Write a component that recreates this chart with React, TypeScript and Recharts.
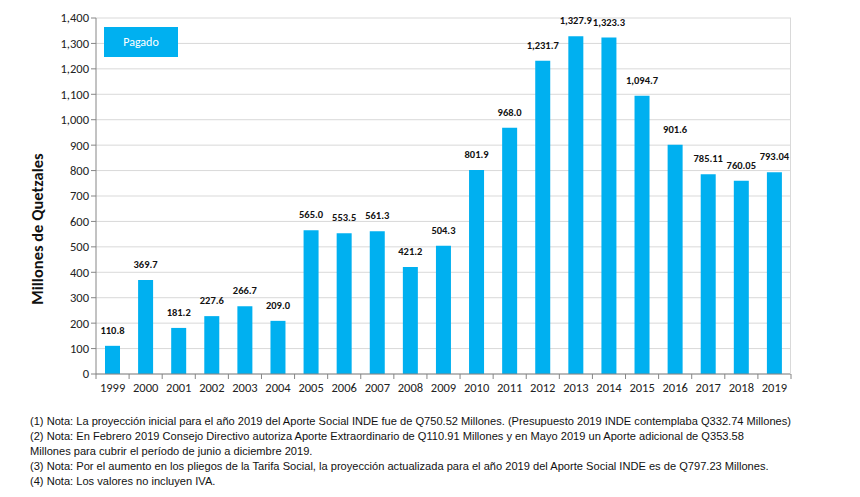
import { BarChart, Bar, XAxis, YAxis, CartesianGrid, LabelList } from "recharts";

const years = [
  "1999", "2000", "2001", "2002", "2003", "2004", "2005", "2006", "2007", "2008", "2009",
  "2010", "2011", "2012", "2013", "2014", "2015", "2016", "2017", "2018", "2019",
];
const pagado = [
  110.8, 369.7, 181.2, 227.6, 266.7, 209.0, 565.0, 553.5, 561.3, 421.2, 504.3,
  801.9, 968.0, 1231.7, 1327.9, 1323.3, 1094.7, 901.6, 785.11, 760.05, 793.04,
];
const labels = [
  "110.8", "369.7", "181.2", "227.6", "266.7", "209.0", "565.0", "553.5", "561.3", "421.2", "504.3",
  "801.9", "968.0", "1,231.7", "1,327.9", "1,323.3", "1,094.7", "901.6", "785.11", "760.05", "793.04",
];
const yTicks = [0, 100, 200, 300, 400, 500, 600, 700, 800, 900, 1000, 1100, 1200, 1300, 1400];
const notes = [
  "(1) Nota: La proyección inicial para el año 2019 del Aporte Social INDE fue de Q750.52 Millones. (Presupuesto 2019 INDE contemplaba Q332.74 Millones)",
  "(2) Nota: En Febrero 2019 Consejo Directivo autoriza Aporte Extraordinario de Q110.91 Millones y en Mayo 2019 un Aporte adicional de Q353.58",
  "Millones para cubrir el período de junio a diciembre 2019.",
  "(3) Nota: Por el aumento en los pliegos de la Tarifa Social, la proyección actualizada para el año 2019 del Aporte Social INDE es de Q797.23 Millones.",
  "(4) Nota: Los valores no incluyen IVA.",
];

const data = years.map((y, i) => ({ year: y, value: pagado[i], label: labels[i] }));

const W = 860;
const H = 400;
const margin = { top: 18, right: 69, left: 0, bottom: 0 };
const yAxisWidth = 96;
const plotW = W - margin.left - margin.right - yAxisWidth;
const step = plotW / years.length;
const FONT = "Carlito, Calibri, Lato, sans-serif";

const YearTick = (props: any) => {
  const { x, y, payload, index } = props;
  return (
    <g>
      <line x1={x - step / 2} x2={x - step / 2} y1={y - 8} y2={y - 3} stroke="#868686" />
      {index === years.length - 1 && (
        <line x1={x + step / 2} x2={x + step / 2} y1={y - 8} y2={y - 3} stroke="#868686" />
      )}
      <text x={x} y={y + 10} textAnchor="middle" fontSize={12.5} fill="#222" fontFamily={FONT}>
        {payload.value}
      </text>
    </g>
  );
};

const AxisTitle = () => (
  <text
    transform="translate(43, 229) rotate(-90)"
    textAnchor="middle"
    fontSize={16.5}
    fontWeight={700}
    fill="#111"
    fontFamily={FONT}
  >
    Millones  de Quetzales
  </text>
);

export default function App() {
  return (
    <div style={{ position: "absolute", left: 0, top: 0, width: W, height: 497, background: "#fff" }}>
      <BarChart width={W} height={H} data={data} margin={margin}>
        <CartesianGrid vertical={false} stroke="#d9d9d9" />
        <XAxis
          dataKey="year"
          axisLine={{ stroke: "#868686" }}
          tickLine={false}
          tick={<YearTick />}
          interval={0}
          height={26}
        />
        <YAxis
          width={yAxisWidth}
          domain={[0, 1400]}
          ticks={yTicks}
          interval={0}
          axisLine={{ stroke: "#868686" }}
          tickLine={{ stroke: "#868686" }}
          tickSize={5}
          tick={{ fontSize: 12.5, fill: "#222", fontFamily: FONT }}
          tickFormatter={(v: number) => v.toLocaleString("en-US")}
          label={{ content: () => <AxisTitle /> }}
        />
        <Bar dataKey="value" fill="#00B0F0" barSize={15} isAnimationActive={false}>
          <LabelList
            dataKey="label"
            position="top"
            offset={12}
            style={{ fontSize: 10.5, fontWeight: 700, fill: "#111", fontFamily: FONT }}
          />
        </Bar>
      </BarChart>
      <div
        style={{
          position: "absolute",
          left: 104,
          top: 27,
          width: 74,
          height: 30,
          background: "#00B0F0",
          color: "#fff",
          fontSize: 12,
          fontFamily: FONT,
          display: "flex",
          alignItems: "center",
          justifyContent: "center",
        }}
      >
        Pagado
      </div>
      <div style={{ position: "absolute", left: 790, top: 18, width: 1, height: 356, background: "#d9d9d9" }} />
      <div
        style={{
          position: "absolute",
          left: 30,
          top: 414,
          fontFamily: "'Liberation Sans Narrow', 'Arial Narrow', 'Liberation Sans', sans-serif",
          fontSize: 11.1,
          lineHeight: "15px",
          color: "#111",
          whiteSpace: "nowrap",
        }}
      >
        {notes.map((n, i) => (
          <div key={i}>{n}</div>
        ))}
      </div>
    </div>
  );
}
